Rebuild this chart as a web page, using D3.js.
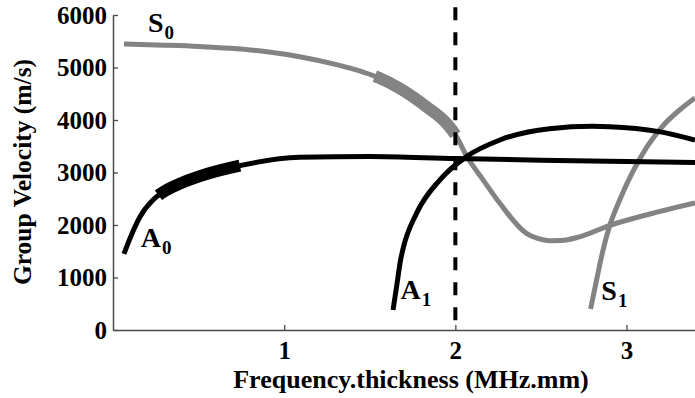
<!DOCTYPE html>
<html><head><meta charset="utf-8">
<script src="https://cdn.jsdelivr.net/npm/d3@7"></script>
<style>html,body{margin:0;padding:0;background:#fff;}svg{display:block;}</style>
</head><body>
<svg id="chart" width="695" height="398"></svg>
<script>
// ---- data ----
const xTicks = [1, 2, 3];
const yTicks = [0, 1000, 2000, 3000, 4000, 5000, 6000];
const xTitle = "Frequency.thickness (MHz.mm)";
const yTitle = "Group Velocity (m/s)";

const S0 = [[0.064,5448],[0.3,5425],[0.5,5400],[0.683,5365],[0.9,5300],[1.09,5206],[1.3,5060],[1.45,4925],[1.55,4810],[1.675,4603],[1.831,4254],[1.948,3937],[2.0,3720],[2.07,3290],[2.16,2870],[2.26,2413],[2.415,1841],[2.48,1745],[2.55,1702],[2.62,1705],[2.72,1770],[2.9,1990],[3.19,2254],[3.4,2420]];
const A0 = [[0.064,1450],[0.11,1830],[0.158,2158],[0.235,2480],[0.28,2600],[0.4,2800],[0.508,2930],[0.741,3130],[1.09,3290],[1.5,3305],[2.0,3265],[2.5,3235],[3.0,3210],[3.4,3190]];
const A1 = [[1.636,381],[1.66,900],[1.68,1333],[1.695,1556],[1.773,2222],[1.909,2857],[2.065,3302],[2.26,3619],[2.55,3835],[2.8,3880],[2.9,3873],[3.19,3778],[3.4,3619]];
const S1 = [[2.79,400],[2.825,952],[2.86,1486],[2.901,1981],[2.96,2476],[3.036,3010],[3.123,3505],[3.222,3924],[3.31,4190],[3.4,4419]];

const A0Thick = [0.265, 0.741];
const S0Thick = [1.53, 2.0];
const markerX = 2;
const markerTop = 6150;

const labels = [
  {main:"S", sub:"0", f:0.204, v:5676},
  {main:"A", sub:"0", f:0.162, v:1581},
  {main:"A", sub:"1", f:1.68,  v:590},
  {main:"S", sub:"1", f:2.853, v:571}
];

// ---- drawing ----
const svg = d3.select("#chart");
const x = d3.scaleLinear().domain([0, 3.4]).range([113, 695]);
const y = d3.scaleLinear().domain([0, 6000]).range([330, 15]);
const FONT = "'Liberation Serif','Times New Roman',serif";
const GREY = "#838383";
const AXIS = "#4a4a4a";

const line = d3.line().x(d => x(d[0])).y(d => y(d[1])).curve(d3.curveMonotoneX);

// axes
const gx = svg.append("g").attr("transform", "translate(0,330)")
  .call(d3.axisBottom(x).tickValues(xTicks).tickFormat(d3.format("d")).tickSizeInner(-5).tickSizeOuter(0).tickPadding(11));
const gy = svg.append("g").attr("transform", "translate(113,0)")
  .call(d3.axisLeft(y).tickValues(yTicks).tickFormat(d3.format("d")).tickSizeInner(-5).tickSizeOuter(0).tickPadding(6));
[gx, gy].forEach(g => {
  g.select(".domain").attr("stroke", AXIS).attr("stroke-width", 1.5);
  g.selectAll(".tick line").attr("stroke", AXIS).attr("stroke-width", 1.3);
  g.selectAll(".tick text").attr("fill", "#000").style("font-family", FONT).style("font-weight", "bold").style("font-size", "25px");
});

// series
function drawSeries(data, color, thick) {
  const p = svg.append("path").datum(data).attr("d", line)
    .attr("fill", "none").attr("stroke", color).attr("stroke-width", 5);
  if (thick) {
    const node = p.node();
    const total = node.getTotalLength();
    function lenAt(px) {
      let lo = 0, hi = total;
      for (let i = 0; i < 40; i++) {
        const mid = (lo + hi) / 2;
        if (node.getPointAtLength(mid).x < px) lo = mid; else hi = mid;
      }
      return (lo + hi) / 2;
    }
    const l1 = lenAt(x(thick[0])), l2 = lenAt(x(thick[1]));
    svg.append("path").datum(data).attr("d", line)
      .attr("fill", "none").attr("stroke", color).attr("stroke-width", 12)
      .attr("stroke-linecap", "butt")
      .attr("stroke-dasharray", `0,${l1},${l2 - l1},${total}`);
  }
}
drawSeries(S0, GREY, S0Thick);
drawSeries(S1, GREY, null);
drawSeries(A0, "#000", A0Thick);
drawSeries(A1, "#000", null);

// dashed marker
svg.append("line")
  .attr("x1", x(markerX)).attr("x2", x(markerX))
  .attr("y1", y(markerTop)).attr("y2", y(0))
  .attr("stroke", "#000").attr("stroke-width", 4).attr("stroke-dasharray", "13,12");

// labels
labels.forEach(l => {
  const t = svg.append("text").attr("x", x(l.f)).attr("y", y(l.v))
    .style("font-family", FONT).style("font-weight", "bold").style("font-size", "28px").attr("fill", "#000");
  t.append("tspan").text(l.main);
  t.append("tspan").attr("dx", 1).attr("dy", 7).style("font-size", "19px").text(l.sub);
});

// titles
svg.append("text").attr("x", 411).attr("y", 388).attr("text-anchor", "middle")
  .style("font-family", FONT).style("font-weight", "bold").style("font-size", "26px").text(xTitle);
svg.append("text").attr("transform", "translate(31,172) rotate(-90)").attr("text-anchor", "middle")
  .style("font-family", FONT).style("font-weight", "bold").style("font-size", "25.5px").text(yTitle);
</script>
</body></html>
